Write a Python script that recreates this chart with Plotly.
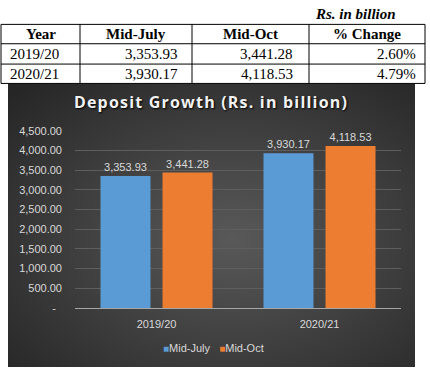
import base64
import plotly.graph_objects as go

# ---- data ----
years = ["2019/20", "2020/21"]
series_names = ["Mid-July", "Mid-Oct"]
mid_july = [3353.93, 3930.17]
mid_oct = [3441.28, 4118.53]
pct_change = ["2.60%", "4.79%"]
table_header = ["Year", "Mid-July", "Mid-Oct", "% Change"]
y_tickvals = [0, 500, 1000, 1500, 2000, 2500, 3000, 3500, 4000, 4500]
y_ticktext = ["-\u00a0\u00a0", "500.00", "1,000.00", "1,500.00", "2,000.00", "2,500.00",
              "3,000.00", "3,500.00", "4,000.00", "4,500.00"]
chart_title = "Deposit Growth (Rs. in billion)"
unit_note = "Rs. in billion"

# ---- layout / style (pixels) ----
colors = ["#5b9bd5", "#ed7d31"]
W, H = 430, 374
col_edges = [1, 80, 192, 309, 425]          # table column borders
row_edges = [19, 39, 60, 80]                # table row borders
col_align = ["left", "right", "right", "right"]
cell_pad = [7, 12, 14, 7]


def px(x):
    return x / W


def py(y):
    return 1 - y / H


fig = go.Figure()

# ---- bars ----
for name, vals, col in zip(series_names, [mid_july, mid_oct], colors):
    fig.add_trace(go.Bar(
        x=years, y=vals, name=name,
        marker=dict(color=col, line=dict(width=0)),
        text=["{:,.2f}".format(v) for v in vals],
        textposition="outside",
        textfont=dict(family="Liberation Sans", size=11, color="#d9d9d9"),
        cliponaxis=False,
        showlegend=False,
    ))

# ---- table (shapes + text from the data arrays) ----
shapes = []
annotations = []
for y in row_edges:
    shapes.append(dict(type="line", xref="paper", yref="paper", x0=px(col_edges[0]),
                       x1=px(col_edges[-1]), y0=py(y), y1=py(y),
                       line=dict(color="black", width=1)))
for x in col_edges:
    shapes.append(dict(type="line", xref="paper", yref="paper", x0=px(x), x1=px(x),
                       y0=py(row_edges[0]), y1=py(row_edges[-1]),
                       line=dict(color="black", width=1)))

table_rows = [[years[i], "{:,.2f}".format(mid_july[i]), "{:,.2f}".format(mid_oct[i]),
               pct_change[i]] for i in range(len(years))]
for j, h in enumerate(table_header):
    annotations.append(dict(text="<b>%s</b>" % h, xref="paper", yref="paper",
                            x=px((col_edges[j] + col_edges[j + 1]) / 2),
                            y=py((row_edges[0] + row_edges[1]) / 2),
                            xanchor="center", yanchor="middle", showarrow=False,
                            font=dict(family="Liberation Serif", size=15, color="black")))
for i, row in enumerate(table_rows):
    yc = py((row_edges[i + 1] + row_edges[i + 2]) / 2 + 0.5)
    for j, v in enumerate(row):
        if col_align[j] == "left":
            x, xa = col_edges[j] + cell_pad[j], "left"
        else:
            x, xa = col_edges[j + 1] - cell_pad[j], "right"
        annotations.append(dict(text=v, xref="paper", yref="paper", x=px(x), y=yc,
                                xanchor=xa, yanchor="middle", showarrow=False,
                                font=dict(family="Liberation Serif", size=15,
                                          color="black")))

annotations.append(dict(text="<b><i>%s</i></b>" % unit_note, xref="paper", yref="paper",
                        x=px(398), y=py(8), xanchor="right", yanchor="middle",
                        showarrow=False,
                        font=dict(family="Liberation Serif", size=15, color="black")))

legend_text = "\u00a0\u00a0\u00a0".join(
    '<span style="color:%s;font-size:10px">\u25a0</span>%s' % (c, n)
    for n, c in zip(series_names, colors))
annotations.append(dict(text=legend_text, xref="paper", yref="paper", x=px(213),
                        y=py(353), xanchor="center", yanchor="middle", showarrow=False,
                        font=dict(family="Liberation Sans", size=11, color="#d9d9d9")))

# dark radial gradient background for the chart
svg = ('<svg xmlns="http://www.w3.org/2000/svg" width="407" height="293" '
       'preserveAspectRatio="none" viewBox="0 0 407 293">'
       '<defs><radialGradient id="g" cx="55%" cy="55%" r="75%">'
       '<stop offset="0" stop-color="#595959"/><stop offset="1" stop-color="#262626"/>'
       '</radialGradient></defs><rect width="407" height="293" fill="url(#g)"/></svg>')
src = "data:image/svg+xml;base64," + base64.b64encode(svg.encode()).decode()

fig.update_layout(
    width=W, height=H,
    margin=dict(l=0, r=0, t=0, b=0),
    paper_bgcolor="white",
    plot_bgcolor="rgba(0,0,0,0)",
    barmode="group",
    bargap=0.239,
    bargroupgap=0.194,
    images=[dict(source=src, xref="paper", yref="paper", x=px(8), y=py(80),
                 sizex=px(415) - px(8), sizey=py(80) - py(373), sizing="stretch",
                 xanchor="left", yanchor="top", layer="below")],
    shapes=shapes,
    annotations=annotations,
    title=dict(text='<span style="letter-spacing:1.2px"><b>%s</b></span>' % chart_title,
               x=px(211), y=py(102), xanchor="center", yanchor="middle",
               font=dict(family="Open Sans", size=16, color="#f2f2f2",
                         shadow="1px 1px 2px #000")),
    xaxis=dict(domain=[px(75), px(401)], showline=True, linecolor="#a6a6a6",
               linewidth=1, showgrid=False, ticks="", ticklabelstandoff=6,
               tickfont=dict(family="Liberation Sans", size=11, color="#d9d9d9")),
    yaxis=dict(domain=[py(312), py(129)], range=[0, 4500], tickvals=y_tickvals,
               ticktext=y_ticktext, showgrid=True, gridcolor="#5e5e5e", gridwidth=1,
               zeroline=False, showline=False, ticks="", ticklabelstandoff=12,
               tickfont=dict(family="Liberation Sans", size=11, color="#d9d9d9")),
)

fig.write_html("out.html", config={"displayModeBar": False},
               post_script="document.body.style.margin='0';")
